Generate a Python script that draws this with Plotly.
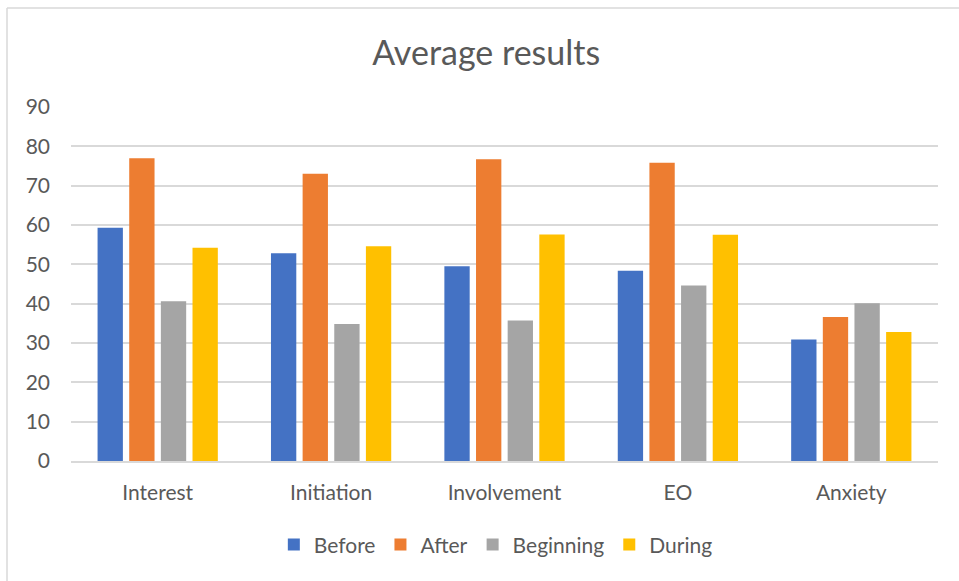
import plotly.graph_objects as go

categories = ["Interest", "Initiation", "Involvement", "EO", "Anxiety"]
before = [59.3, 52.8, 49.5, 48.4, 30.9]
after = [77.0, 73.0, 76.7, 75.8, 36.6]
beginning = [40.6, 34.8, 35.7, 44.6, 40.1]
during = [54.2, 54.6, 57.6, 57.5, 32.8]

series = [
    ("Before", before, "#4472C4"),
    ("After", after, "#ED7D31"),
    ("Beginning", beginning, "#A5A5A5"),
    ("During", during, "#FFC000"),
]

FONT = "Lato, Open Sans, sans-serif"
TXT = "#595959"

fig = go.Figure()
for name, vals, col in series:
    fig.add_trace(go.Bar(name=name, x=categories, y=vals, marker_color=col,
                         marker_line_width=0, hoverinfo="x+y+name"))

fig.update_layout(
    width=959, height=581,
    margin=dict(l=71, r=21, t=107, b=120, pad=0),
    paper_bgcolor="white", plot_bgcolor="white",
    barmode="group", bargap=0.27, bargroupgap=0.2,
    font=dict(family=FONT, color=TXT, size=20),
    title=dict(text="Average results", x=0.507, xanchor="center",
               y=1 - 53 / 581, yanchor="middle", yref="container",
               font=dict(size=34, color=TXT, family=FONT)),
    legend=dict(orientation="h", x=0.49, xanchor="center", y=-0.237,
                yanchor="middle", font=dict(size=21, color=TXT),
                itemwidth=30, tracegroupgap=0),
    showlegend=True,
)
fig.update_yaxes(range=[0, 90], dtick=10, showgrid=True, gridcolor="#D9D9D9",
                 gridwidth=1.5, zeroline=False, showline=False, ticks="",
                 ticklabelstandoff=20, tickfont=dict(size=21, color=TXT))
fig.update_xaxes(showline=True, linecolor="#D9D9D9", linewidth=1.5, ticks="",
                 ticklabelstandoff=12, tickfont=dict(size=21, color=TXT))

# chart frame (top and left edges)
fig.add_shape(type="line", xref="paper", yref="paper",
              x0=(7 - 71) / 867, x1=1.03, y0=(461 - 8) / 354, y1=(461 - 8) / 354,
              line=dict(color="#D9D9D9", width=1.5))
fig.add_shape(type="line", xref="paper", yref="paper",
              x0=(7 - 71) / 867, x1=(7 - 71) / 867, y0=(461 - 8) / 354, y1=-0.4,
              line=dict(color="#D9D9D9", width=1.5))

fig.write_html("out.html")
